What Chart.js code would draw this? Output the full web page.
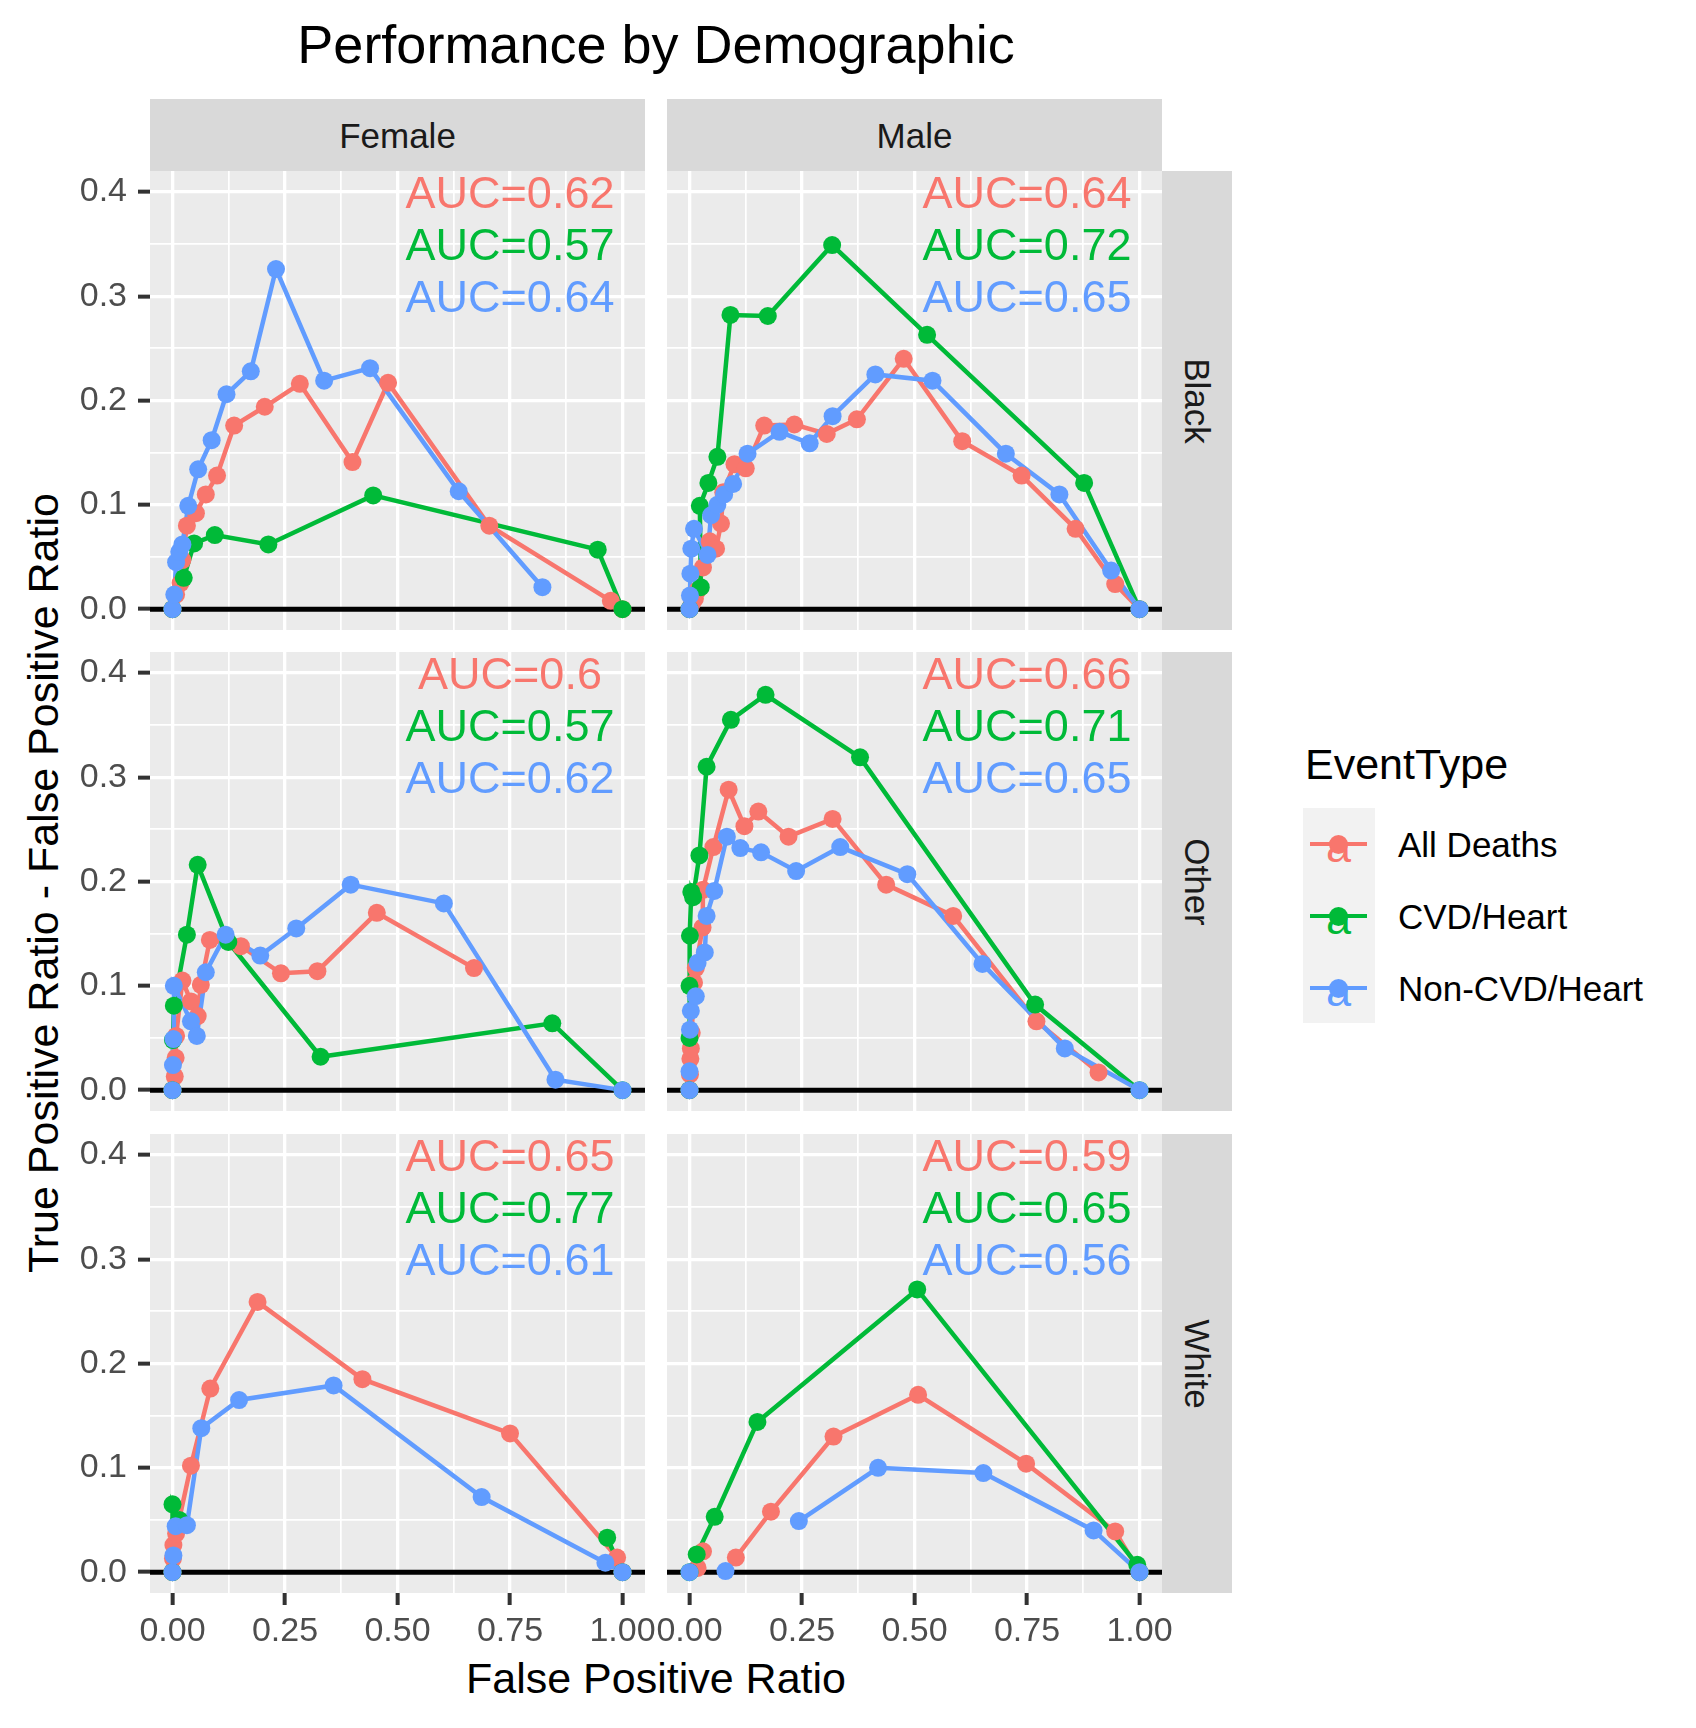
<!DOCTYPE html>
<html>
<head>
<meta charset="utf-8">
<script src="https://cdn.jsdelivr.net/npm/chart.js@4.4.0/dist/chart.umd.min.js"></script>
<style>
  body { margin: 0; background: #fff; font-family: "Liberation Sans", Arial, sans-serif; }
  #wrap { position: relative; width: 1696px; height: 1728px; overflow: hidden; background: #fff; }
  #wrap canvas { position: absolute; }
  .strip { position: absolute; background: #D9D9D9; }
</style>
</head>
<body>
<div id="wrap"></div>
<script>
// =========================
// DATA
// =========================
const eventTypes = ["All Deaths", "CVD/Heart", "Non-CVD/Heart"];
const colors = ["#F8766D", "#00BA38", "#619CFF"];
const sexes = ["Female", "Male"];
const races = ["Black", "Other", "White"];

const xTicks = [0, 0.25, 0.5, 0.75, 1];
const xTickLabels = ["0.00", "0.25", "0.50", "0.75", "1.00"];
const xMinor = [0.125, 0.375, 0.625, 0.875];
const yTicks = [0, 0.1, 0.2, 0.3, 0.4];
const yTickLabels = ["0.0", "0.1", "0.2", "0.3", "0.4"];
const yMinor = [0.05, 0.15, 0.25, 0.35];

const aucX = 0.75;
const aucY = [0.4, 0.35, 0.3];

// Female / Black
const fbAllX = [0, 0.008, 0.018, 0.022, 0.032, 0.052, 0.074, 0.099, 0.137, 0.205, 0.283, 0.4, 0.479, 0.704, 0.974, 1];
const fbAllY = [0, 0.014, 0.025, 0.047, 0.08, 0.092, 0.11, 0.128, 0.176, 0.194, 0.216, 0.141, 0.217, 0.08, 0.008, 0];
const fbCvdX = [0, 0.025, 0.048, 0.094, 0.213, 0.446, 0.945, 1];
const fbCvdY = [0, 0.03, 0.063, 0.071, 0.062, 0.109, 0.057, 0];
const fbNonX = [0, 0.004, 0.008, 0.015, 0.022, 0.035, 0.057, 0.087, 0.12, 0.174, 0.23, 0.337, 0.439, 0.636, 0.822];
const fbNonY = [0, 0.014, 0.045, 0.055, 0.062, 0.099, 0.134, 0.162, 0.206, 0.228, 0.326, 0.219, 0.231, 0.113, 0.021];
const fbAuc = ["AUC=0.62", "AUC=0.57", "AUC=0.64"];

// Male / Black
const mbAllX = [0, 0.005, 0.012, 0.018, 0.03, 0.045, 0.059, 0.07, 0.075, 0.1, 0.125, 0.166, 0.233, 0.305, 0.372, 0.476, 0.606, 0.738, 0.858, 0.946, 1];
const mbAllY = [0, 0.005, 0.01, 0.018, 0.04, 0.065, 0.058, 0.082, 0.112, 0.139, 0.135, 0.176, 0.177, 0.168, 0.182, 0.24, 0.161, 0.128, 0.077, 0.024, 0];
const mbCvdX = [0, 0.025, 0.023, 0.042, 0.062, 0.091, 0.174, 0.317, 0.528, 0.877, 1];
const mbCvdY = [0, 0.021, 0.099, 0.121, 0.146, 0.282, 0.281, 0.349, 0.263, 0.121, 0];
const mbNonX = [0, 0.001, 0.002, 0.004, 0.01, 0.04, 0.048, 0.062, 0.077, 0.097, 0.129, 0.2, 0.267, 0.318, 0.413, 0.54, 0.703, 0.822, 0.937, 1];
const mbNonY = [0, 0.013, 0.034, 0.058, 0.077, 0.052, 0.09, 0.1, 0.11, 0.12, 0.149, 0.17, 0.159, 0.185, 0.225, 0.219, 0.149, 0.11, 0.037, 0];
const mbAuc = ["AUC=0.64", "AUC=0.72", "AUC=0.65"];

// Female / Other
const foAllX = [0, 0.005, 0.007, 0.008, 0.022, 0.041, 0.056, 0.063, 0.083, 0.152, 0.241, 0.322, 0.454, 0.67];
const foAllY = [0, 0.013, 0.031, 0.052, 0.105, 0.085, 0.071, 0.101, 0.144, 0.138, 0.112, 0.114, 0.17, 0.117];
const foCvdX = [0, 0.001, 0.003, 0.032, 0.056, 0.124, 0.329, 0.844, 1];
const foCvdY = [0, 0.048, 0.081, 0.149, 0.216, 0.142, 0.032, 0.064, 0];
const foNonX = [0, 0.001, 0.002, 0.003, 0.041, 0.054, 0.074, 0.118, 0.195, 0.275, 0.396, 0.603, 0.851, 1];
const foNonY = [0, 0.024, 0.049, 0.1, 0.066, 0.052, 0.113, 0.149, 0.129, 0.155, 0.197, 0.179, 0.01, 0];
const foAuc = ["AUC=0.6", "AUC=0.57", "AUC=0.62"];

// Male / Other
const moAllX = [0, 0.001, 0.002, 0.003, 0.005, 0.01, 0.014, 0.029, 0.03, 0.053, 0.087, 0.122, 0.153, 0.22, 0.318, 0.437, 0.586, 0.771, 0.909];
const moAllY = [0, 0.015, 0.03, 0.04, 0.055, 0.103, 0.117, 0.156, 0.192, 0.233, 0.288, 0.253, 0.267, 0.243, 0.26, 0.197, 0.167, 0.066, 0.017];
const moCvdX = [0, 0, 0, 0.001, 0.004, 0.008, 0.022, 0.038, 0.092, 0.169, 0.379, 0.768, 1];
const moCvdY = [0, 0.05, 0.1, 0.148, 0.19, 0.185, 0.225, 0.31, 0.355, 0.379, 0.319, 0.082, 0];
const moNonX = [0, 0, 0.001, 0.003, 0.014, 0.018, 0.034, 0.038, 0.055, 0.083, 0.113, 0.159, 0.237, 0.335, 0.484, 0.651, 0.834, 1];
const moNonY = [0, 0.018, 0.058, 0.076, 0.09, 0.122, 0.132, 0.167, 0.191, 0.243, 0.232, 0.228, 0.21, 0.233, 0.207, 0.121, 0.04, 0];
const moAuc = ["AUC=0.66", "AUC=0.71", "AUC=0.65"];

// Female / White  (null = break in the line)
const fwAllX = [0, 0.001, 0.002, 0.008, 0.041, 0.084, 0.189, 0.422, 0.75, 0.988, 1];
const fwAllY = [0, 0.013, 0.026, 0.037, 0.102, 0.176, 0.259, 0.185, 0.133, 0.014, 0];
const fwCvdX = [0, 0, 0.015, null, 0.966, 1];
const fwCvdY = [0, 0.065, 0.05, null, 0.033, 0];
const fwNonX = [0, 0.002, 0.007, 0.032, 0.064, 0.148, 0.358, 0.687, 0.962, 1];
const fwNonY = [0, 0.016, 0.044, 0.045, 0.138, 0.165, 0.179, 0.072, 0.009, 0];
const fwAuc = ["AUC=0.65", "AUC=0.77", "AUC=0.61"];

// Male / White
const mwAllX = [0.018, 0.03, null, 0.103, 0.181, 0.32, 0.508, 0.748, 0.946, 1];
const mwAllY = [0.004, 0.02, null, 0.014, 0.058, 0.13, 0.17, 0.104, 0.039, 0];
const mwCvdX = [0, 0.016, 0.056, 0.151, 0.506, 0.995, 1];
const mwCvdY = [0, 0.017, 0.053, 0.144, 0.271, 0.007, 0];
const mwNonX = [0, null, 0.08, null, 0.243, 0.419, 0.653, 0.898, 1];
const mwNonY = [0, null, 0.001, null, 0.049, 0.1, 0.095, 0.04, 0];
const mwAuc = ["AUC=0.59", "AUC=0.65", "AUC=0.56"];

// rows = race, cols = sex
const panels = [
    [
        { xs: [fbAllX, fbCvdX, fbNonX], ys: [fbAllY, fbCvdY, fbNonY], auc: fbAuc },
        { xs: [mbAllX, mbCvdX, mbNonX], ys: [mbAllY, mbCvdY, mbNonY], auc: mbAuc }
    ],
    [
        { xs: [foAllX, foCvdX, foNonX], ys: [foAllY, foCvdY, foNonY], auc: foAuc },
        { xs: [moAllX, moCvdX, moNonX], ys: [moAllY, moCvdY, moNonY], auc: moAuc }
    ],
    [
        { xs: [fwAllX, fwCvdX, fwNonX], ys: [fwAllY, fwCvdY, fwNonY], auc: fwAuc },
        { xs: [mwAllX, mwCvdX, mwNonX], ys: [mwAllY, mwCvdY, mwNonY], auc: mwAuc }
    ]
];

// =========================
// LAYOUT
// =========================
const PANEL_LEFT = [150, 667];
const PANEL_TOP = [171, 652, 1134];
const PANEL_W = 495;
const PANEL_H = 459;
const PAD_V = 32;
const FONT = '"Liberation Sans", Arial, sans-serif';

const wrap = document.getElementById("wrap");

function addText(txt, x, baseline, size, color, align) {
    const d = document.createElement("div");
    d.textContent = txt;
    d.style.cssText = "position:absolute;white-space:nowrap;font-size:" + size + "px;line-height:" + size +
        "px;color:" + color + ";top:" + (baseline - 0.8465 * size) + "px;";
    if (align === "center") {
        d.style.left = x + "px";
        d.style.transform = "translateX(-50%)";
    } else if (align === "right") {
        d.style.right = (1696 - x) + "px";
    } else {
        d.style.left = x + "px";
    }
    wrap.appendChild(d);
    return d;
}

function addRotated(txt, cx, cy, size, color, deg) {
    const d = document.createElement("div");
    d.textContent = txt;
    d.style.cssText = "position:absolute;white-space:nowrap;font-size:" + size + "px;line-height:" + size +
        "px;color:" + color + ";left:" + cx + "px;top:" + cy + "px;transform:translate(-50%,-50%) rotate(" + deg + "deg);";
    wrap.appendChild(d);
}

function addBox(left, top, w, h, bg, cls) {
    const d = document.createElement("div");
    if (cls) d.className = cls;
    d.style.cssText += "position:absolute;left:" + left + "px;top:" + top + "px;width:" + w + "px;height:" + h + "px;background:" + bg + ";";
    wrap.appendChild(d);
    return d;
}

// title + axis titles
addText("Performance by Demographic", 656, 63, 54, "#000", "center");
addText("False Positive Ratio", 656, 1693, 43, "#000", "center");
addRotated("True Positive Ratio - False Positive Ratio", 43, 883, 43, "#000", -90);

// strips
sexes.forEach((s, c) => {
    addBox(PANEL_LEFT[c], 99, PANEL_W, 72, "#D9D9D9", "strip");
    addText(s, PANEL_LEFT[c] + PANEL_W / 2, 148, 35, "#1A1A1A", "center");
});
races.forEach((r, i) => {
    addBox(1162, PANEL_TOP[i], 70, PANEL_H, "#D9D9D9", "strip");
    addRotated(r, 1197, PANEL_TOP[i] + PANEL_H / 2, 35, "#1A1A1A", 90);
});

// =========================
// PANEL PLUGINS
// =========================
const panelBg = {
    id: "panelBg",
    beforeDraw(chart) {
        const a = chart.chartArea, ctx = chart.ctx;
        ctx.save();
        ctx.fillStyle = "#EBEBEB";
        ctx.fillRect(a.left, a.top, a.right - a.left, a.bottom - a.top);
        ctx.restore();
    },
    beforeDatasetsDraw(chart) {
        // horizontal reference line at y = 0
        const a = chart.chartArea, ctx = chart.ctx;
        const y = chart.scales.y.getPixelForValue(0);
        ctx.save();
        ctx.strokeStyle = "#000";
        ctx.lineWidth = 5;
        ctx.beginPath();
        ctx.moveTo(a.left, y);
        ctx.lineTo(a.right, y);
        ctx.stroke();
        ctx.restore();
    }
};

const xAll = xTicks.concat(xMinor).sort((a, b) => a - b);
const yAll = yTicks.concat(yMinor).sort((a, b) => a - b);

function gridOpts(major) {
    return {
        color: "#FFFFFF",
        lineWidth: ctx => (ctx.tick && major.indexOf(ctx.tick.value) >= 0) ? 3.3 : 1.7,
        tickColor: ctx => (ctx.tick && major.indexOf(ctx.tick.value) >= 0) ? "#333333" : "rgba(0,0,0,0)",
        tickWidth: 4,
        tickLength: 12
    };
}

// =========================
// RENDER PANELS
// =========================
function makePanel(r, c) {
    const p = panels[r][c];
    const showY = c === 0, showX = r === 2;
    const padL = showY ? 0 : 30;
    const axW = showY ? 150 : 0;
    const axH = showX ? 62 : 0;
    const left = PANEL_LEFT[c] - axW - padL;
    const top = PANEL_TOP[r] - PAD_V;
    const w = padL + axW + PANEL_W + 30;
    const h = PAD_V + PANEL_H + axH + PAD_V;

    const cv = document.createElement("canvas");
    cv.width = w;
    cv.height = h;
    cv.style.left = left + "px";
    cv.style.top = top + "px";
    cv.style.width = w + "px";
    cv.style.height = h + "px";
    wrap.appendChild(cv);

    const datasets = [];
    eventTypes.forEach((name, k) => {
        const pts = p.xs[k].map((x, i) => ({ x: x, y: p.ys[k][i] }));
        datasets.push({
            label: name + " line",
            data: pts,
            borderColor: colors[k],
            backgroundColor: colors[k],
            borderWidth: 4.5,
            pointRadius: 0,
            showLine: true,
            spanGaps: false,
            tension: 0,
            order: 5 - k
        });
        datasets.push({
            label: name,
            data: pts,
            showLine: false,
            pointRadius: 9,
            pointBorderWidth: 0,
            pointBackgroundColor: colors[k],
            pointBorderColor: colors[k],
            order: 2 - k
        });
    });

    const chart = new Chart(cv.getContext("2d"), {
        type: "line",
        data: { datasets: datasets },
        plugins: [panelBg],
        options: {
            responsive: false,
            animation: false,
            layout: { autoPadding: false, padding: { left: padL, right: 30, top: PAD_V, bottom: PAD_V } },
            plugins: { legend: { display: false }, tooltip: { enabled: false } },
            scales: {
                x: {
                    type: "linear",
                    min: -0.05,
                    max: 1.05,
                    afterBuildTicks: s => { s.ticks = xAll.map(v => ({ value: v })); },
                    afterFit: s => { s.height = axH; },
                    border: { display: false },
                    grid: Object.assign(gridOpts(xTicks), { drawTicks: showX }),
                    ticks: {
                        display: showX,
                        autoSkip: false,
                        maxRotation: 0,
                        minRotation: 0,
                        padding: 6,
                        color: "#4D4D4D",
                        font: { family: FONT, size: 34 },
                        callback: v => { const i = xTicks.indexOf(v); return i >= 0 ? xTickLabels[i] : ""; }
                    }
                },
                y: {
                    type: "linear",
                    min: -0.02,
                    max: 0.42,
                    afterBuildTicks: s => { s.ticks = yAll.map(v => ({ value: v })); },
                    afterFit: s => { s.width = axW; },
                    border: { display: false },
                    grid: Object.assign(gridOpts(yTicks), { drawTicks: showY }),
                    ticks: {
                        display: showY,
                        autoSkip: false,
                        padding: 11,
                        color: "#4D4D4D",
                        font: { family: FONT, size: 34 },
                        callback: v => { const i = yTicks.indexOf(v); return i >= 0 ? yTickLabels[i] : ""; }
                    }
                }
            }
        }
    });

    // AUC annotations placed through the chart's own scales
    p.auc.forEach((txt, k) => {
        const px = left + chart.scales.x.getPixelForValue(aucX);
        const py = top + chart.scales.y.getPixelForValue(aucY[k]);
        addText(txt, px, py + 16, 45, colors[k], "center");
    });
}

for (let r = 0; r < 3; r++) {
    for (let c = 0; c < 2; c++) {
        makePanel(r, c);
    }
}

// =========================
// LEGEND
// =========================
addText("EventType", 1305, 779, 43, "#000", "left");
addBox(1303, 808, 72, 215, "#F2F2F2");
eventTypes.forEach((name, k) => {
    const cy = 808 + 72 * k + 36;
    addBox(1310, cy - 2.25, 57, 4.5, colors[k]);
    addText("a", 1338.5, cy + 18, 45, colors[k], "center");
    const dot = addBox(1338.5 - 9.5, cy - 9.5, 19, 19, colors[k]);
    dot.style.borderRadius = "50%";
    addText(name, 1398, cy + 13, 35, "#000", "left");
});
</script>
</body>
</html>
